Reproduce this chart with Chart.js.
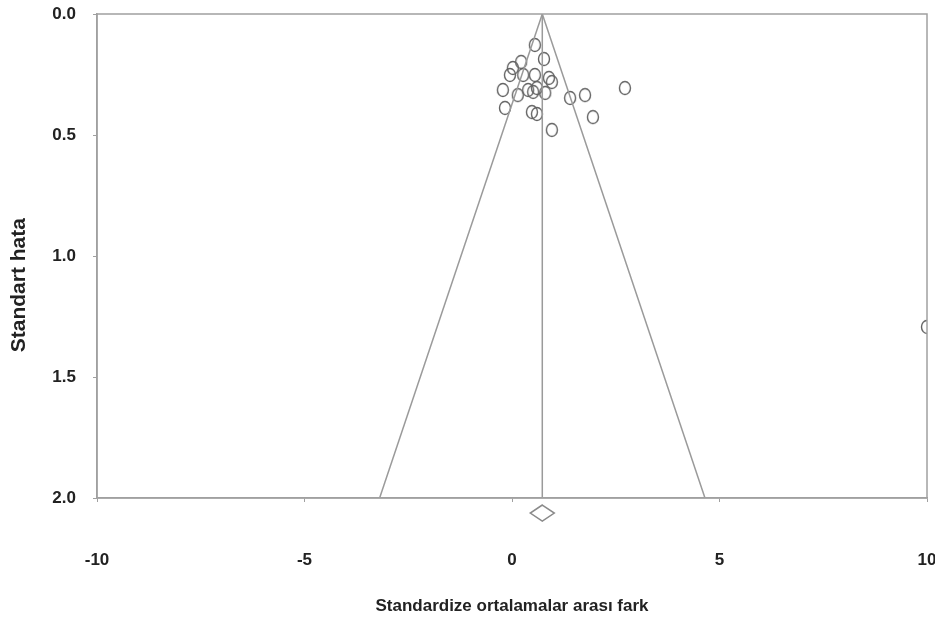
<!DOCTYPE html>
<html>
<head>
<meta charset="utf-8">
<script src="https://cdn.jsdelivr.net/npm/chart.js@4.4.0/dist/chart.umd.min.js"></script>
<style>
  html, body { margin: 0; padding: 0; background: #fff; }
  canvas { display: block; }
</style>
</head>
<body>
<canvas id="funnelChart" width="935" height="618"></canvas>
<script>
// Study effects (standardized mean difference) and their standard errors
const effectSizes = [0.55, 0.77, 0.22, 0.02, -0.05, 0.27, 0.55, 0.89, 0.96, -0.22, 0.14, 0.39,
                     0.51, 0.60, 0.80, 1.40, 1.76, 2.72, -0.17, 0.48, 0.60, 1.95, 0.96, 10.0];
const standardErrors = [0.128, 0.186, 0.198, 0.223, 0.252, 0.252, 0.252, 0.264, 0.281, 0.314, 0.335, 0.314,
                        0.322, 0.306, 0.326, 0.347, 0.335, 0.306, 0.388, 0.405, 0.413, 0.426, 0.479, 1.293];

// Pooled effect and funnel limits
const pooledEffect = 0.73;
const funnelSE = [0, 2];
const funnelLeft = [0.73, -3.19];
const funnelRight = [0.73, 4.65];
const diamondSE = 2.062;

const xTicks = [-10, -5, 0, 5, 10];
const yTicks = [0, 0.5, 1, 1.5, 2];

const font = '"Liberation Sans", Arial, sans-serif';

// ellipse marker (circles in the picture are a little taller than wide)
function ellipseMarker(w, h) {
    const c = document.createElement('canvas');
    c.width = w + 2; c.height = h + 2;
    const g = c.getContext('2d');
    g.strokeStyle = '#636363';
    g.lineWidth = 1.4;
    g.beginPath();
    g.ellipse(c.width / 2, c.height / 2, w / 2 - 0.5, h / 2 - 0.5, 0, 0, Math.PI * 2);
    g.stroke();
    return c;
}

// frame around plot + pooled-effect diamond below the axis
const extras = {
    id: 'extras',
    afterDatasetsDraw(chart) {
        const a = chart.chartArea, ctx = chart.ctx;
        ctx.save();
        ctx.strokeStyle = '#a0a0a0';
        ctx.lineWidth = 1.5;
        ctx.strokeRect(a.left, a.top, a.right - a.left, a.bottom - a.top);

        const px = chart.scales.x.getPixelForValue(pooledEffect);
        const py = chart.scales.y.getPixelForValue(diamondSE);
        ctx.strokeStyle = '#8a8a8a';
        ctx.beginPath();
        ctx.moveTo(px, py - 8); ctx.lineTo(px + 12, py);
        ctx.lineTo(px, py + 8); ctx.lineTo(px - 12, py);
        ctx.closePath();
        ctx.stroke();
        ctx.restore();
    }
};

const lineStyle = { borderColor: '#9a9a9a', borderWidth: 1.5, pointRadius: 0, showLine: true, fill: false, tension: 0 };

new Chart(document.getElementById('funnelChart').getContext('2d'), {
    type: 'scatter',
    data: {
        datasets: [
            Object.assign({ label: 'left', data: funnelLeft.map((x, i) => ({ x: x, y: funnelSE[i] })) }, lineStyle),
            Object.assign({ label: 'right', data: funnelRight.map((x, i) => ({ x: x, y: funnelSE[i] })) }, lineStyle),
            Object.assign({ label: 'mean', data: funnelSE.map(se => ({ x: pooledEffect, y: se })) }, lineStyle),
            {
                label: 'studies',
                data: effectSizes.map((x, i) => ({ x: x, y: standardErrors[i] })),
                pointStyle: ellipseMarker(12, 14),
                pointRadius: 7
            }
        ]
    },
    options: {
        responsive: false,
        animation: false,
        devicePixelRatio: 1,
        layout: { padding: { top: 14, right: 4, left: 0, bottom: 0 } },
        plugins: { legend: { display: false }, tooltip: { enabled: false } },
        scales: {
            x: {
                type: 'linear',
                min: -10, max: 10,
                afterBuildTicks: s => { s.ticks = xTicks.map(v => ({ value: v })); },
                afterFit: s => { s.height = 120; s.paddingLeft = 0; s.paddingRight = 0; },
                grid: { drawOnChartArea: false, tickLength: 4, color: '#a0a0a0' },
                border: { color: '#a0a0a0', width: 1.5 },
                ticks: { color: '#222', padding: 48, maxRotation: 0, font: { family: font, size: 17, weight: 'bold' } },
                title: {
                    display: true, text: 'Standardize ortalamalar arası fark', color: '#222',
                    font: { family: font, size: 17, weight: 'bold' }, padding: { top: 10, bottom: 1 }
                }
            },
            y: {
                type: 'linear',
                reverse: true,
                min: 0, max: 2,
                afterBuildTicks: s => { s.ticks = yTicks.map(v => ({ value: v })); },
                afterFit: s => { s.width = 97; s.paddingTop = 0; s.paddingBottom = 0; },
                grid: { drawOnChartArea: false, tickLength: 4, color: '#a0a0a0' },
                border: { color: '#a0a0a0', width: 1.5 },
                ticks: { color: '#222', padding: 17, font: { family: font, size: 17, weight: 'bold' },
                         callback: v => v.toFixed(1) },
                title: {
                    display: true, text: 'Standart hata          ', color: '#222',
                    font: { family: font, size: 21, weight: 'bold' }, padding: { top: 7, bottom: 0 }
                }
            }
        }
    },
    plugins: [extras]
});
</script>
</body>
</html>
